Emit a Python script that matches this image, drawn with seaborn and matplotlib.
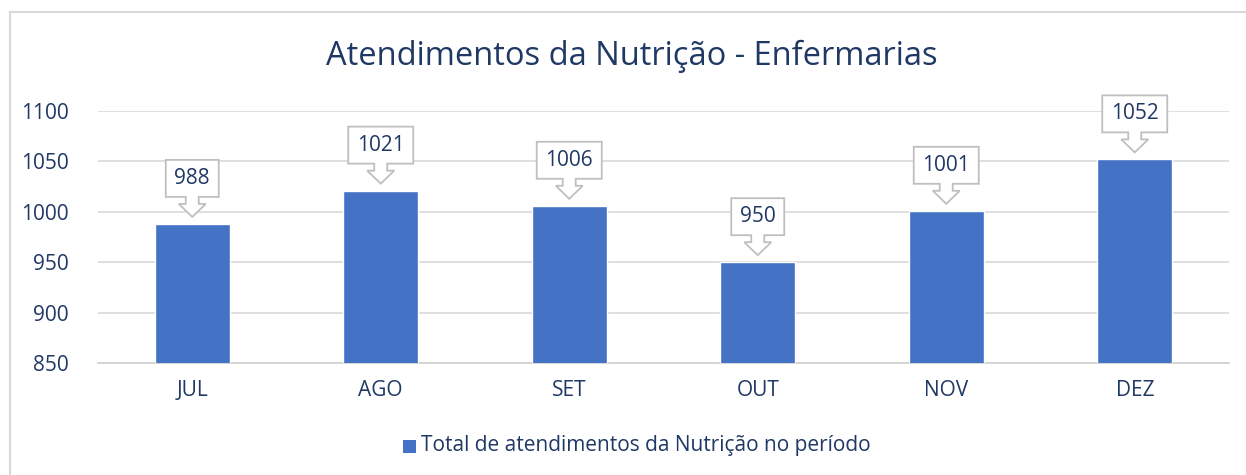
import matplotlib
matplotlib.use("Agg")
import matplotlib.pyplot as plt
import matplotlib.transforms as mtransforms
from matplotlib.patches import Polygon, Rectangle
import seaborn as sns
import pandas as pd

months = ["JUL", "AGO", "SET", "OUT", "NOV", "DEZ"]
visits = [988, 1021, 1006, 950, 1001, 1052]
y_ticks = [850, 900, 950, 1000, 1050, 1100]
series_name = "Total de atendimentos da Nutrição no período"
title = "Atendimentos da Nutrição - Enfermarias"

BLUE = "#4472C4"
NAVY = "#203864"
GRID = "#D9D9D9"

sns.set_theme(style="white")
plt.rcParams["font.family"] = ["Open Sans", "DejaVu Sans"]

df = pd.DataFrame({"mes": months, "total": visits})

W, H, DPI = 1246, 475, 100
fig = plt.figure(figsize=(W / DPI, H / DPI), dpi=DPI)
ax = fig.add_axes([98 / W, 1 - 363 / H, (1229 - 98) / W, (363 - 111) / H])

sns.barplot(data=df, x="mes", y="total", color=BLUE, width=0.4,
            saturation=1, ax=ax, zorder=3, bottom=0)

ax.set_ylim(850, 1100)
ax.set_yticks(y_ticks)
ax.set_xlim(-0.5, len(months) - 0.5)
ax.grid(axis="y", color=GRID, linewidth=1.2, zorder=0)
ax.set_xlabel("")
ax.set_ylabel("")
for s in ["top", "right", "left"]:
    ax.spines[s].set_visible(False)
ax.spines["bottom"].set_color("#D0D0D0")
ax.spines["bottom"].set_linewidth(1.2)
ax.tick_params(axis="both", length=0, labelsize=15, labelcolor=NAVY)
ax.tick_params(axis="y", pad=21)
ax.tick_params(axis="x", pad=12)
for lbl in ax.get_yticklabels():
    lbl.set_horizontalalignment("right")

# callout boxes with a downward arrow, anchored just above each bar
px = 1 / DPI
for i, v in enumerate(visits):
    w = 53 if v < 1000 else 65
    hw = w / 2
    shape = [(0, 0), (13.5, 13), (6.5, 13), (6.5, 20), (hw, 20), (hw, 57),
             (-hw, 57), (-hw, 20), (-6.5, 20), (-6.5, 13), (-13.5, 13)]
    shape = [(x * px, (y + 7) * px) for x, y in shape]
    tr = fig.dpi_scale_trans + mtransforms.ScaledTranslation(i, v, ax.transData)
    ax.add_patch(Polygon(shape, closed=True, facecolor="white",
                         edgecolor="#BFBFBF", linewidth=1.3, transform=tr,
                         zorder=5, clip_on=False))
    ax.text(0, (7 + 38.5) * px, f"{v}", transform=tr, ha="center",
            va="center", fontsize=15, color=NAVY, zorder=6)

fig.text(632 / W, 1 - 56 / H, title, ha="center", va="center",
         fontsize=23.5, color=NAVY)

# legend entry
leg_y = 1 - 446 / H
fig.patches.append(Rectangle((403 / W, leg_y - 6.5 / H), 13 / W, 13 / H,
                             transform=fig.transFigure, facecolor=BLUE,
                             edgecolor="none"))
fig.text(421 / W, leg_y, series_name, ha="left", va="center",
         fontsize=15, color=NAVY)

# chart area frame
fig.patches.append(Rectangle((10 / W, -0.01), 1.05, 1 - 12 / H + 0.01,
                             transform=fig.transFigure, facecolor="none",
                             edgecolor="#D9D9D9", linewidth=1.5))

fig.savefig("out.png", dpi=DPI, facecolor="white")
